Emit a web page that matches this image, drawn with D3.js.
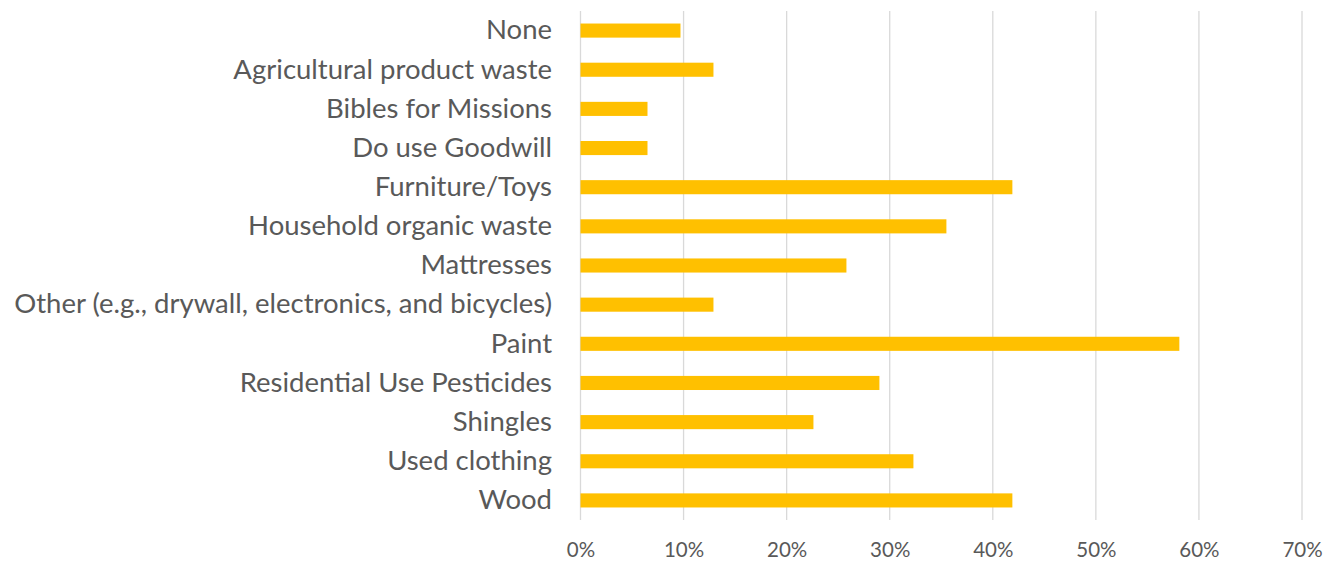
<!DOCTYPE html>
<html>
<head>
<meta charset="utf-8">
<script src="https://cdn.jsdelivr.net/npm/d3@7"></script>
<style>
  html, body { margin: 0; padding: 0; background: #fff; }
  svg { display: block; }
  text { font-family: Lato, "Open Sans", sans-serif; fill: #595959; }
</style>
</head>
<body>
<svg id="chart" width="1340" height="563"></svg>
<script>
// Share of respondents per collected material
const categories = [
  "None",
  "Agricultural product waste",
  "Bibles for Missions",
  "Do use Goodwill",
  "Furniture/Toys",
  "Household organic waste",
  "Mattresses",
  "Other (e.g., drywall, electronics, and bicycles)",
  "Paint",
  "Residential Use Pesticides",
  "Shingles",
  "Used clothing",
  "Wood"
];
const values = [0.097, 0.129, 0.065, 0.065, 0.419, 0.355, 0.258, 0.129, 0.581, 0.290, 0.226, 0.323, 0.419];
const xTicks = [0, 0.1, 0.2, 0.3, 0.4, 0.5, 0.6, 0.7];

const svg = d3.select("#chart");
const plotLeft = 580.5, plotRight = 1302, plotTop = 11, plotBottom = 520;

const x = d3.scaleLinear().domain([0, 0.7]).range([plotLeft, plotRight]);
const y = d3.scaleBand().domain(categories).range([plotTop, plotBottom]).paddingInner(0.64).paddingOuter(0.32);

// vertical gridlines
svg.append("g")
  .selectAll("line")
  .data(xTicks)
  .join("line")
  .attr("x1", d => x(d)).attr("x2", d => x(d))
  .attr("y1", plotTop).attr("y2", plotBottom)
  .attr("stroke", "#d9d9d9")
  .attr("stroke-width", 1.3);

// bars
svg.append("g")
  .selectAll("rect")
  .data(categories.map((c, i) => ({ c, v: values[i] })))
  .join("rect")
  .attr("x", x(0))
  .attr("y", d => y(d.c))
  .attr("width", d => x(d.v) - x(0))
  .attr("height", y.bandwidth())
  .attr("fill", "#FFC000");

// x axis tick labels
const xAxis = d3.axisBottom(x).tickValues(xTicks).tickFormat(d3.format(".0%")).tickSize(0).tickPadding(0);
const gx = svg.append("g").attr("transform", `translate(0, ${plotBottom + 22})`).call(xAxis);
gx.select(".domain").remove();
gx.selectAll("text").attr("font-size", 20.5).attr("fill", "#595959")
  .style("font-family", "Lato, 'Open Sans', sans-serif");

// category labels
const yAxis = d3.axisLeft(y).tickSize(0).tickPadding(0);
const gy = svg.append("g").attr("transform", `translate(552, 0)`).call(yAxis);
gy.select(".domain").remove();
gy.selectAll("text").attr("font-size", 27.5).attr("fill", "#595959")
  .style("font-family", "Lato, 'Open Sans', sans-serif");
</script>
</body>
</html>
